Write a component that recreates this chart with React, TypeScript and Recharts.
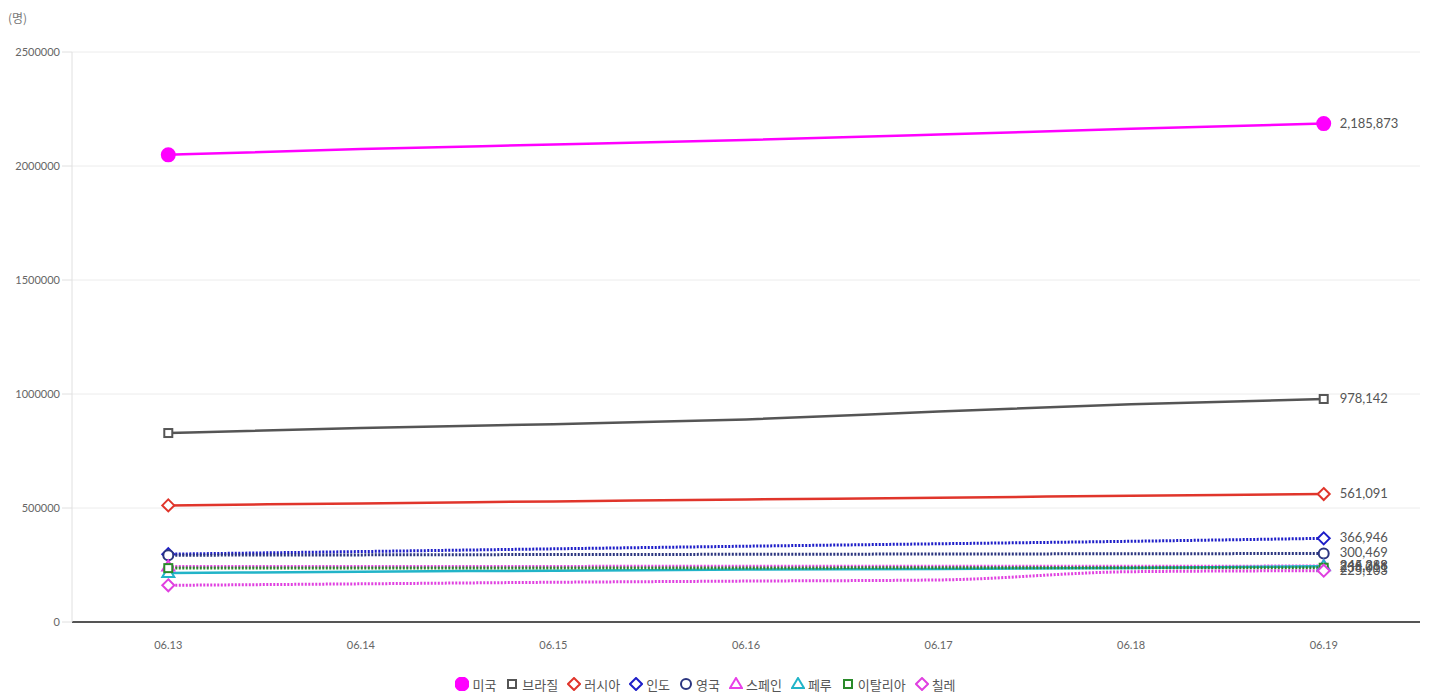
import { CartesianGrid, Legend, Line, LineChart, XAxis, YAxis } from "recharts";

const dates = ["06.13", "06.14", "06.15", "06.16", "06.17", "06.18", "06.19"];

const usa = [2048986, 2074526, 2094069, 2114026, 2137731, 2163290, 2185873];
const brazil = [828810, 850514, 867624, 888271, 923189, 955377, 978142];
const russia = [511423, 520129, 528964, 537210, 545458, 553301, 561091];
const india = [297535, 308993, 320922, 332424, 343091, 354065, 366946];
const uk = [292950, 294375, 295889, 296857, 298136, 299251, 300469];
const spain = [243209, 243605, 243928, 244109, 244328, 244683, 245268];
const peru = [214788, 220749, 225132, 229736, 232992, 237156, 244388];
const italy = [236305, 236651, 236989, 237290, 237500, 237828, 238011];
const chile = [160846, 167355, 174293, 179436, 184449, 220628, 225103];

const yTicks = [0, 500000, 1000000, 1500000, 2000000, 2500000];

type Shape = "circle" | "square" | "diamond" | "triangle";

const series: { key: string; name: string; values: number[]; color: string; shape: Shape; filled: boolean; dotted: boolean }[] = [
  { key: "usa", name: "미국", values: usa, color: "#ff00ff", shape: "circle", filled: true, dotted: false },
  { key: "brazil", name: "브라질", values: brazil, color: "#555555", shape: "square", filled: false, dotted: false },
  { key: "russia", name: "러시아", values: russia, color: "#e0352b", shape: "diamond", filled: false, dotted: false },
  { key: "india", name: "인도", values: india, color: "#1e1ec8", shape: "diamond", filled: false, dotted: true },
  { key: "uk", name: "영국", values: uk, color: "#2b357f", shape: "circle", filled: false, dotted: true },
  { key: "spain", name: "스페인", values: spain, color: "#e840e8", shape: "triangle", filled: false, dotted: true },
  { key: "peru", name: "페루", values: peru, color: "#22b4c8", shape: "triangle", filled: false, dotted: false },
  { key: "italy", name: "이탈리아", values: italy, color: "#2a8a2a", shape: "square", filled: false, dotted: true },
  { key: "chile", name: "칠레", values: chile, color: "#e040e0", shape: "diamond", filled: false, dotted: true },
];

const data = dates.map((d, i) => {
  const row: Record<string, string | number> = { date: d };
  series.forEach((s) => (row[s.key] = s.values[i]));
  return row;
});

function Marker({ cx, cy, shape, color, filled }: { cx: number; cy: number; shape: Shape; color: string; filled: boolean }) {
  const fill = filled ? color : "#fff";
  if (shape === "circle") {
    return <circle cx={cx} cy={cy} r={filled ? 6.5 : 5} fill={fill} stroke={color} strokeWidth={2} />;
  }
  if (shape === "square") {
    return <rect x={cx - 4} y={cy - 4} width={8} height={8} fill={fill} stroke={color} strokeWidth={2} />;
  }
  if (shape === "diamond") {
    return <path d={`M${cx},${cy - 6}L${cx + 6},${cy}L${cx},${cy + 6}L${cx - 6},${cy}Z`} fill={fill} stroke={color} strokeWidth={2} />;
  }
  return <path d={`M${cx},${cy - 6}L${cx + 6},${cy + 4}L${cx - 6},${cy + 4}Z`} fill={fill} stroke={color} strokeWidth={2} />;
}

function LegendContent() {
  return (
    <div style={{ display: "flex", justifyContent: "center", alignItems: "center", height: 22, transform: "translateY(3px)", fontFamily: "'Noto Sans CJK KR', 'Noto Sans', sans-serif", fontSize: 13, color: "#555" }}>
      {series.map((s) => (
        <span key={s.key} style={{ display: "inline-flex", alignItems: "center", marginRight: 9 }}>
          <svg width={14} height={14} style={{ marginRight: 3 }}>
            <Marker cx={7} cy={7} shape={s.shape} color={s.color} filled={s.filled} />
          </svg>
          {s.name}
        </span>
      ))}
    </div>
  );
}

export default function App() {
  const last = dates.length - 1;
  return (
    <div style={{ position: "absolute", left: 0, top: 0, width: 1431, height: 692, background: "#fff" }}>
      <div style={{ position: "absolute", left: 8, top: 9, fontFamily: "'Noto Sans CJK KR', sans-serif", fontSize: 12, color: "#777" }}>(명)</div>
      <LineChart width={1431} height={692} data={data} margin={{ top: 52, right: 11, left: 0, bottom: 0 }}>
        <CartesianGrid vertical={false} stroke="#ececec" />
        <XAxis
          dataKey="date"
          scale="band"
          height={48}
          tickLine={false}
          axisLine={{ stroke: "#555", strokeWidth: 2 }}
          tick={{ fontSize: 11, fill: "#666", fontFamily: "Lato, sans-serif" }}
          tickMargin={13}
        />
        <YAxis
          width={72}
          domain={[0, 2500000]}
          ticks={yTicks}
          interval={0}
          tickSize={10}
          tickLine={{ stroke: "#e0e0e0" }}
          axisLine={{ stroke: "#e0e0e0" }}
          tick={{ fontSize: 11, fill: "#666", fontFamily: "Lato, sans-serif" }}
        />
        <Legend verticalAlign="bottom" content={<LegendContent />} />
        {series.map((s) => (
          <Line
            key={s.key}
            type="monotone"
            dataKey={s.key}
            name={s.name}
            stroke={s.color}
            strokeWidth={s.dotted ? 3 : 2.5}
            strokeDasharray={s.dotted ? "2 1.5" : undefined}
            isAnimationActive={false}
            dot={(p: any) =>
              p.index === 0 || p.index === last ? (
                <Marker key={`${s.key}-${p.index}`} cx={p.cx} cy={p.cy} shape={s.shape} color={s.color} filled={s.filled} />
              ) : (
                <g key={`${s.key}-${p.index}`} />
              )
            }
            activeDot={false}
            label={(p: any) =>
              p.index === last ? (
                <text key={`${s.key}-l`} x={p.x + 16} y={p.y} dy={4} fontSize={13} fill="#555" fontFamily="Lato, sans-serif">
                  {Number(p.value).toLocaleString("en-US")}
                </text>
              ) : (
                <g key={`${s.key}-l${p.index}`} />
              )
            }
          />
        ))}
      </LineChart>
    </div>
  );
}
